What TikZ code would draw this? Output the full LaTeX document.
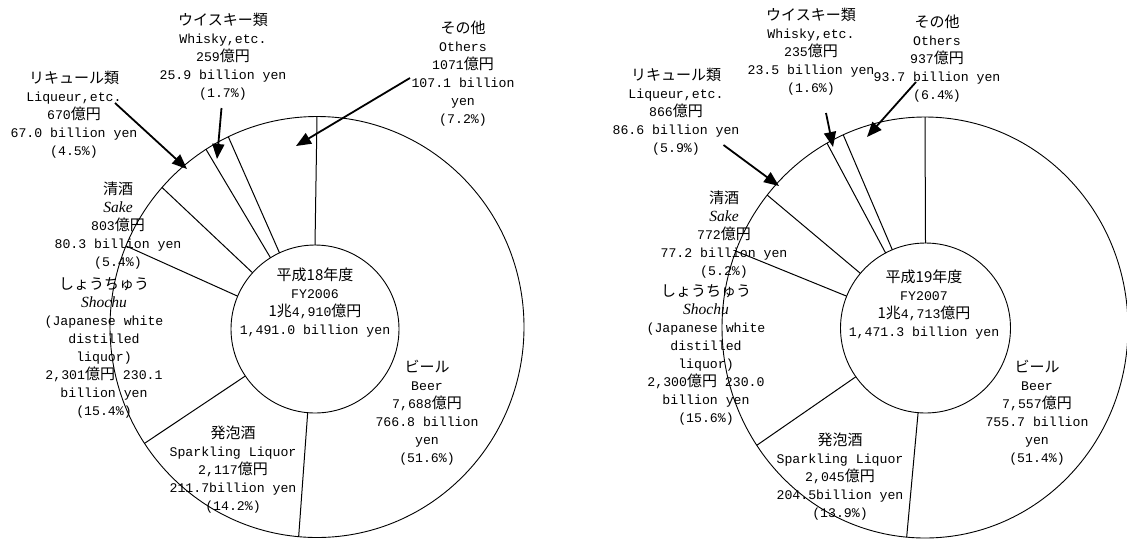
\documentclass[tikz,border=0pt]{standalone}
\usepackage{fontspec}
\setmainfont{Liberation Mono}
\newfontfamily\jpf{Noto Sans CJK JP}
\newfontfamily\serf{Liberation Serif}
\usetikzlibrary{shapes.geometric,arrows.meta}
\newcommand\JT[1]{{\jpf\fontsize{15}{18}\selectfont #1}}
\newcommand\ITL[1]{{\serf\itshape\fontsize{15.5}{18}\selectfont #1}}
\tikzset{
  lbl/.style={align=center,inner sep=0pt,font=\fontsize{13.2}{18}\selectfont},
  ring/.style={draw,line width=0.9pt,inner sep=0pt,outer sep=0pt},
  slice/.style={line width=1pt},
  arr/.style={line width=1.8pt,-{Triangle[length=15pt,width=12pt]}}
}
\begin{document}
\begin{tikzpicture}[x=1pt,y=-1pt]
\useasboundingbox (0,0) rectangle (1127,539);
\fill[white] (0,0) rectangle (1127,539);
\clip (0,0) rectangle (1127,539);

% ---------- Left chart (FY2006) ----------
\node[ring,ellipse,minimum width=414pt,minimum height=421pt] (lo) at (317,327) {};
\node[ring,circle,minimum size=168pt,fill=white] (li) at (315,329) {};
\foreach \a in {90,-95.76,-146.88,157.68,138.24,122.04,115.92}
  \draw[slice] (li.\a) -- (lo.\a);

\node[lbl] (lc) at (315,302.5) {\JT{平成18年度}\\FY2006\\\JT{1兆}4,910\JT{億円}\\1,491.0 billion yen};
\node[lbl] (lwh) at (223,56.5) {\JT{ウイスキー類}\\Whisky,etc.\\259\JT{億円}\\25.9 billion yen\\(1.7\%)};
\node[lbl] (lot) at (463,73.5) {\JT{その他}\\Others\\1071\JT{億円}\\107.1 billion\\yen\\(7.2\%)};
\node[lbl] (llq) at (74,115) {\JT{リキュール類}\\Liqueur,etc.\\670\JT{億円}\\67.0 billion yen\\(4.5\%)};
\node[lbl] (lsk) at (118,226) {\JT{清酒}\\\ITL{Sake}\\803\JT{億円}\\80.3 billion yen\\(5.4\%)};
\node[lbl] (lsh) at (104,347.5) {\JT{しょうちゅう}\\\ITL{Shochu}\\(Japanese white\\distilled\\liquor)\\2,301\JT{億円} 230.1\\billion yen\\(15.4\%)};
\node[lbl] (lsp) at (233,469.5) {\JT{発泡酒}\\Sparkling Liquor\\2,117\JT{億円}\\211.7billion yen\\(14.2\%)};
\node[lbl] (lbr) at (427,412.5) {\JT{ビール}\\Beer\\7,688\JT{億円}\\766.8 billion\\yen\\(51.6\%)};

\coordinate (lqs) at (115,103);  \coordinate (lqe) at (187,169);
\coordinate (lws) at (221.5,108); \coordinate (lwe) at (217,159);
\coordinate (los) at (410,78);   \coordinate (loe) at (296,146);
\draw[arr] (lqs) -- (lqe);
\draw[arr] (lws) -- (lwe);
\draw[arr] (los) -- (loe);

% ---------- Right chart (FY2007) ----------
\node[ring,ellipse,minimum width=406pt,minimum height=421pt] (ro) at (925,327.5) {};
\node[ring,circle,minimum size=170pt,fill=white] (ri) at (925.5,328) {};
\foreach \a in {90,-95.04,-145.08,158.76,140.04,118.8,113.04}
  \draw[slice] (ri.\a) -- (ro.\a);

\node[lbl] (rc) at (924,305) {\JT{平成19年度}\\FY2007\\\JT{1兆}4,713\JT{億円}\\1,471.3 billion yen};
\node[lbl] (rwh) at (811,51.5) {\JT{ウイスキー類}\\Whisky,etc.\\235\JT{億円}\\23.5 billion yen\\(1.6\%)};
\node[lbl] (rot) at (937,58.5) {\JT{その他}\\Others\\937\JT{億円}\\93.7 billion yen\\(6.4\%)};
\node[lbl] (rlq) at (676,111.5) {\JT{リキュール類}\\Liqueur,etc.\\866\JT{億円}\\86.6 billion yen\\(5.9\%)};
\node[lbl] (rsk) at (724,235) {\JT{清酒}\\\ITL{Sake}\\772\JT{億円}\\77.2 billion yen\\(5.2\%)};
\node[lbl] (rsh) at (706,355) {\JT{しょうちゅう}\\\ITL{Shochu}\\(Japanese white\\distilled\\liquor)\\2,300\JT{億円} 230.0\\billion yen\\(15.6\%)};
\node[lbl] (rsp) at (840,476.5) {\JT{発泡酒}\\Sparkling Liquor\\2,045\JT{億円}\\204.5billion yen\\(13.9\%)};
\node[lbl] (rbr) at (1037,412.5) {\JT{ビール}\\Beer\\7,557\JT{億円}\\755.7 billion\\yen\\(51.4\%)};

\coordinate (rqs) at (723.5,145); \coordinate (rqe) at (779,186);
\coordinate (rws) at (826,113);   \coordinate (rwe) at (833,147);
\coordinate (ros) at (916,82);    \coordinate (roe) at (867,137);
\draw[arr] (rqs) -- (rqe);
\draw[arr] (rws) -- (rwe);
\draw[arr] (ros) -- (roe);
\end{tikzpicture}
\end{document}
